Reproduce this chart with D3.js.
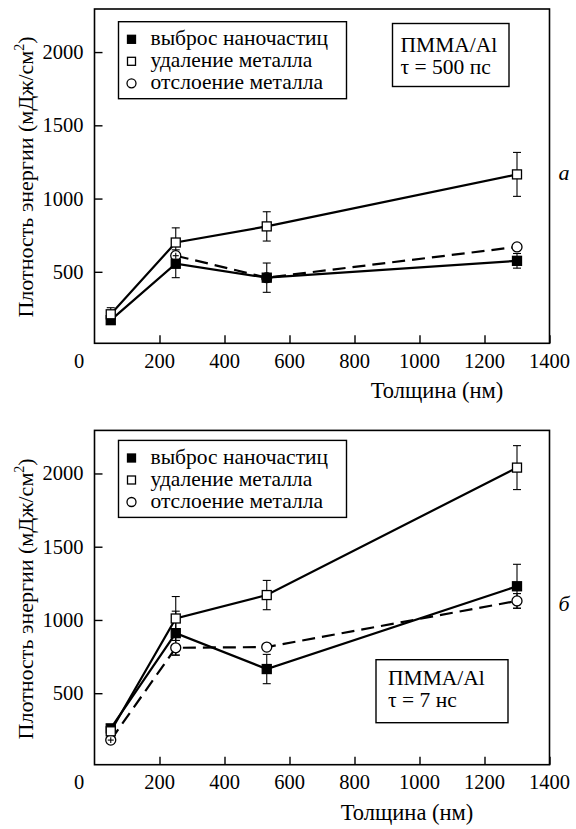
<!DOCTYPE html>
<html>
<head>
<meta charset="utf-8">
<script src="https://cdn.jsdelivr.net/npm/d3@7"></script>
</head>
<body style="margin:0">
<svg id="chart" width="576" height="829"></svg>
<script>
// thickness of the PMMA film, nm
var thickness = [50, 250, 530, 1300];

// panel a: tau = 500 ps
var ejectA = [170, 555, 460, 575];
var ejectErrA = [0, 95, 100, 50];
var removeA = [210, 700, 810, 1165];
var removeErrA = [45, 100, 100, 150];
var peelA = [null, 610, 460, 670];
var peelErrA = [0, 20, 0, 0];

// panel b: tau = 7 ns
var ejectB = [260, 910, 665, 1230];
var ejectErrB = [20, 150, 100, 150];
var removeB = [240, 1010, 1170, 2040];
var removeErrB = [30, 150, 100, 150];
var peelB = [180, 810, 815, 1130];
var peelErrB = [20, 50, 0, 50];

var legendLabels = ["выброс наночастиц", "удаление металла", "отслоение металла"];
var xTicks = [200, 400, 600, 800, 1000, 1200, 1400];
var yTicks = [500, 1000, 1500, 2000];

var FONT = "'Liberation Serif', monospace";
var svg = d3.select("#chart");

function label(sel, size) {
  return sel.append("text").attr("font-size", size).style("font-family", FONT);
}

function drawPanel(p)
{
  var g = svg.append("g").attr("transform", "translate(0," + p.top + ")");
  var left = 94.5, right = 549.5, h = 334.3;

  var x = d3.scaleLinear().domain([0, 1400]).range([left, right]);
  var y = d3.scaleLinear().domain([12, 2294]).range([h, 0]);

  // frame
  g.append("rect")
    .attr("x", left).attr("y", 0)
    .attr("width", right - left).attr("height", h)
    .attr("fill", "none").attr("stroke", "#000").attr("stroke-width", 1.6);

  // ticks only, labels are placed as plain texts below
  var xAxis = g.append("g")
    .attr("transform", "translate(0," + h + ")")
    .call(d3.axisBottom(x).tickValues(xTicks).tickSize(-8).tickFormat(""));
  var yAxis = g.append("g")
    .attr("transform", "translate(" + left + ",0)")
    .call(d3.axisLeft(y).tickValues(yTicks).tickSize(-8).tickFormat(""));
  [xAxis, yAxis].forEach(function(a) {
    a.select(".domain").remove();
    a.selectAll("line").attr("stroke", "#000").attr("stroke-width", 1.4);
    a.selectAll("text").remove();
  });

  xTicks.forEach(function(t) {
    label(g, 20.5).attr("x", x(t)).attr("y", h + 24.7).attr("text-anchor", "middle").text(t);
  });
  yTicks.forEach(function(t) {
    label(g, 20.5).attr("x", left - 11).attr("y", y(t) + 7).attr("text-anchor", "end").text(t);
  });

  // corner zero
  label(g, 20.5).attr("x", 79).attr("y", h + 24.7)
    .attr("text-anchor", "middle").text("0");

  // axis titles
  label(g, 22.5).attr("x", p.xTitleX).attr("y", h + 55)
    .attr("text-anchor", "middle").text("Толщина (нм)");

  var yt = label(g, 22)
    .attr("transform", "translate(32.5," + p.yTitleY + ") rotate(-90)")
    .attr("text-anchor", "middle");
  yt.append("tspan").text("Плотность энергии (мДж/см");
  yt.append("tspan").attr("font-size", 14).attr("dy", -9).text("2");
  yt.append("tspan").attr("dy", 9).text(")");

  // series
  var series = [
    { vals: p.eject, errs: p.ejectErr, mark: "fsq", dash: null },
    { vals: p.remove, errs: p.removeErr, mark: "osq", dash: null },
    { vals: p.peel, errs: p.peelErr, mark: "circ", dash: "13,7" }
  ];

  var line = d3.line()
    .defined(function(d) { return d[1] != null; })
    .x(function(d) { return x(d[0]); })
    .y(function(d) { return y(d[1]); });

  series.forEach(function(s) {
    var pts = thickness.map(function(t, i) { return [t, s.vals[i], s.errs[i]]; });
    g.append("path").datum(pts)
      .attr("d", line)
      .attr("fill", "none").attr("stroke", "#000").attr("stroke-width", 2.2)
      .attr("stroke-dasharray", s.dash);
    s.pts = pts.filter(function(d) { return d[1] != null; });
  });

  // error bars
  series.forEach(function(s) {
    s.pts.filter(function(d) { return d[2] > 0; }).forEach(function(d) {
      var cx = x(d[0]), y1 = y(d[1] + d[2]), y2 = y(d[1] - d[2]);
      g.append("line").attr("x1", cx).attr("x2", cx).attr("y1", y1).attr("y2", y2)
        .attr("stroke", "#000").attr("stroke-width", 1.1);
      [y1, y2].forEach(function(yy) {
        g.append("line").attr("x1", cx - 4).attr("x2", cx + 4).attr("y1", yy).attr("y2", yy)
          .attr("stroke", "#000").attr("stroke-width", 1.1);
      });
    });
  });

  // markers
  function marker(sel, kind, cx, cy) {
    if (kind == "circ") {
      sel.append("circle").attr("cx", cx).attr("cy", cy).attr("r", 5)
        .attr("fill", "#fff").attr("stroke", "#000").attr("stroke-width", 1.3);
    } else {
      sel.append("rect").attr("x", cx - 4.5).attr("y", cy - 4.5).attr("width", 9).attr("height", 9)
        .attr("fill", kind == "fsq" ? "#000" : "#fff").attr("stroke", "#000").attr("stroke-width", 1.3);
    }
  }
  [series[2], series[0], series[1]].forEach(function(s) {
    s.pts.forEach(function(d) { marker(g, s.mark, x(d[0]), y(d[1])); });
  });
  // small error bar drawn over the circle (cross inside marker)
  series[2].pts.filter(function(d) { return d[2] > 0 && d[2] < 40; }).forEach(function(d) {
    g.append("line").attr("x1", x(d[0])).attr("x2", x(d[0]))
      .attr("y1", y(d[1] + d[2])).attr("y2", y(d[1] - d[2])).attr("stroke", "#000").attr("stroke-width", 1.1);
    g.append("line").attr("x1", x(d[0]) - 3).attr("x2", x(d[0]) + 3)
      .attr("y1", y(d[1])).attr("y2", y(d[1])).attr("stroke", "#000").attr("stroke-width", 1.1);
  });

  // legend
  var lg = g.append("g").attr("transform", "translate(118.5," + p.legTop + ")");
  lg.append("rect").attr("width", 228).attr("height", 77)
    .attr("fill", "#fff").attr("stroke", "#000").attr("stroke-width", 1.4);
  ["fsq", "osq", "circ"].forEach(function(k, i) {
    var ry = 17.6 + i * 22;
    if (k == "circ") {
      lg.append("circle").attr("cx", 13).attr("cy", ry).attr("r", 4.5)
        .attr("fill", "#fff").attr("stroke", "#000").attr("stroke-width", 1.3);
    } else {
      lg.append("rect").attr("x", 9).attr("y", ry - 4).attr("width", 8).attr("height", 8)
        .attr("fill", k == "fsq" ? "#000" : "#fff").attr("stroke", "#000").attr("stroke-width", 1.3);
    }
    label(lg, 21.5).attr("x", 32).attr("y", ry + 6).text(legendLabels[i]);
  });

  // info box
  var ib = g.append("g").attr("transform", "translate(" + p.info[0] + "," + p.info[1] + ")");
  ib.append("rect").attr("width", p.info[2]).attr("height", 63)
    .attr("fill", "#fff").attr("stroke", "#000").attr("stroke-width", 1.4);
  label(ib, 21.5).attr("x", p.infoText[0]).attr("y", p.infoText[1]).text("ПММА/Al");
  label(ib, 21.5).attr("x", p.infoText[0]).attr("y", p.infoText[2]).text(p.tau);

  // panel letter
  label(g, 22).attr("x", 564).attr("y", p.letterY).attr("text-anchor", "middle")
    .attr("font-style", "italic").text(p.letter);
}

drawPanel({
  top: 9, eject: ejectA, ejectErr: ejectErrA, remove: removeA, removeErr: removeErrA,
  peel: peelA, peelErr: peelErrA, legTop: 12.7, info: [392.5, 14.5, 116.5], infoText: [8, 28, 50],
  tau: "τ = 500 пс", letter: "a", letterY: 170.5, xTitleX: 437, yTitleY: 168
});
drawPanel({
  top: 430.4, eject: ejectB, ejectErr: ejectErrB, remove: removeB, removeErr: removeErrB,
  peel: peelB, peelErr: peelErrB, legTop: 10, info: [376, 229.3, 132], infoText: [12, 25, 47.5],
  tau: "τ = 7 нс", letter: "б", letterY: 181, xTitleX: 407, yTitleY: 168.5
});
</script>
</body>
</html>
